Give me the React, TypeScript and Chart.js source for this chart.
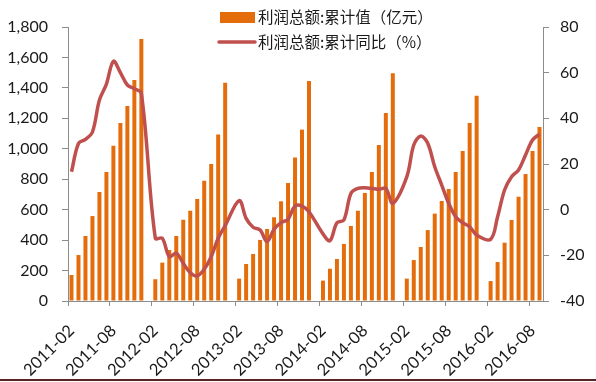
import React, { useEffect, useRef } from 'react';
import { Chart, registerables } from 'chart.js';

Chart.register(...registerables);

// ---- data ----
const FIRST_YEAR = 2011;
const LAST_YEAR = 2016;
const LAST_MONTH = 9;

// cumulative profit (亿元), Feb..Dec of each year (January not published)
const profit2011 = [171, 302, 427, 558, 716, 847, 1020, 1169, 1281, 1452, 1721];
const profit2012 = [143, 252, 335, 427, 534, 593, 670, 790, 900, 1093, 1434];
const profit2013 = [147, 243, 309, 401, 473, 550, 655, 775, 942, 1126, 1445];
const profit2014 = [134, 212, 276, 375, 493, 593, 710, 848, 1025, 1235, 1496];
const profit2015 = [147, 269, 355, 466, 574, 657, 736, 848, 986, 1169, 1349];
const profit2016 = [131, 256, 383, 532, 685, 834, 986, 1143];

// cumulative YoY (%), Feb..Dec of each year
const yoy2011 = [16.6, 29, 30.8, 34, 48, 55, 65, 60, 54.6, 53, 51];
const yoy2012 = [-12.5, -12.5, -20.6, -19.1, -23.5, -27.6, -29, -26.1, -20.6, -12.5, -7];
const yoy2013 = [4, -3.8, -7.7, -8.9, -14, -8.6, -5.7, -4.2, 1.6, 1.6, -0.9];
const yoy2014 = [-10.6, -13.6, -5.7, -4.5, 7.1, 9.3, 9.6, 9.3, 8.9, 9.3, 2.8];
const yoy2015 = [14.4, 28.3, 32.3, 29.1, 18.8, 10.8, 2.8, -3.1, -5.7, -7.5, -11.1];
const yoy2016 = [-13, -3.1, 8.6, 14.4, 17.4, 23.9, 30.5, 33.1];

const leftTicks = { min: 0, max: 1800, step: 200 };
const rightTicks = { min: -40, max: 80, step: 20 };

const BAR_LABEL = '利润总额:累计值（亿元）';
const LINE_LABEL = '利润总额:累计同比（%）';

// categories: every month from 2011-02 to 2016-09
const categories: string[] = [];
for (let y = FIRST_YEAR; y <= LAST_YEAR; y++) {
  for (let m = 1; m <= 12; m++) {
    if (y === FIRST_YEAR && m === 1) continue;
    if (y === LAST_YEAR && m > LAST_MONTH) continue;
    categories.push(`${y}-${String(m).padStart(2, '0')}`);
  }
}

function joinYears(parts: number[][]): (number | null)[] {
  const out: (number | null)[] = [];
  parts.forEach((p, i) => {
    if (i > 0) out.push(null); // January: no data
    out.push(...p);
  });
  return out;
}

const profitSeries = joinYears([profit2011, profit2012, profit2013, profit2014, profit2015, profit2016]);
const yoySeries = joinYears([yoy2011, yoy2012, yoy2013, yoy2014, yoy2015, yoy2016]);

const BAR_COLOR = '#E46C0A';
const LINE_COLOR = '#C0504D';
const AXIS_COLOR = '#8c8c8c';
const TEXT_COLOR = '#1a1a1a';
const TICK_FONT = { family: 'Lato', size: 16 };

const legendPlugin = {
  id: 'cornerLegend',
  afterDatasetsDraw(chart: any) {
    const ctx = chart.ctx as CanvasRenderingContext2D;
    ctx.save();
    ctx.font = '15.5px "Noto Sans CJK SC"';
    ctx.textBaseline = 'middle';
    ctx.textAlign = 'left';
    // bar item
    ctx.fillStyle = BAR_COLOR;
    ctx.fillRect(220, 12, 35, 11);
    ctx.fillStyle = TEXT_COLOR;
    ctx.fillText(BAR_LABEL, 258, 17.5);
    // line item
    ctx.strokeStyle = LINE_COLOR;
    ctx.lineWidth = 3.5;
    ctx.lineCap = 'round';
    ctx.beginPath();
    ctx.moveTo(219, 42);
    ctx.lineTo(255, 42);
    ctx.stroke();
    ctx.fillStyle = TEXT_COLOR;
    ctx.fillText(LINE_LABEL, 258, 42);
    ctx.restore();
  },
};

export default function App() {
  const ref = useRef<HTMLCanvasElement | null>(null);

  useEffect(() => {
    if (!ref.current) return;
    const chart = new Chart(ref.current, {
      type: 'bar',
      data: {
        labels: categories,
        datasets: [
          {
            type: 'line',
            label: LINE_LABEL,
            data: yoySeries,
            yAxisID: 'y1',
            borderColor: LINE_COLOR,
            backgroundColor: LINE_COLOR,
            borderWidth: 3.5,
            pointRadius: 0,
            tension: 0.35,
            spanGaps: true,
            order: 0,
          } as any,
          {
            type: 'bar',
            label: BAR_LABEL,
            data: profitSeries,
            yAxisID: 'y',
            backgroundColor: BAR_COLOR,
            categoryPercentage: 1,
            barPercentage: 0.57,
            order: 1,
          } as any,
        ],
      },
      options: {
        responsive: false,
        animation: false,
        layout: { padding: { top: 27, left: 0, right: 0, bottom: 0 } },
        plugins: {
          legend: { display: false },
          tooltip: { enabled: false },
        },
        scales: {
          x: {
            type: 'category',
            offset: true,
            grid: {
              offset: true,
              drawOnChartArea: false,
              drawTicks: true,
              tickLength: 5,
              color: (c: any) => (typeof c.index === 'number' && c.index % 6 === 0 ? AXIS_COLOR : 'rgba(0,0,0,0)'),
            },
            border: { color: AXIS_COLOR, width: 1 },
            ticks: {
              autoSkip: false,
              minRotation: 45,
              maxRotation: 45,
              padding: 15,
              color: TEXT_COLOR,
              font: { family: 'Lato', size: 16.5 },
              callback: (_v: any, i: number) => (i % 6 === 0 ? categories[i] : ''),
            },
            afterFit: (s: any) => {
              s.height = 81;
            },
          },
          y: {
            type: 'linear',
            position: 'left',
            min: leftTicks.min,
            max: leftTicks.max,
            grid: { drawOnChartArea: false, drawTicks: true, tickLength: 6, color: AXIS_COLOR },
            border: { color: AXIS_COLOR, width: 1 },
            ticks: {
              stepSize: leftTicks.step,
              padding: 14,
              color: TEXT_COLOR,
              font: TICK_FONT,
              callback: (v: any) => Number(v).toLocaleString('en-US'),
            },
            afterFit: (s: any) => {
              s.width = 68;
            },
          },
          y1: {
            type: 'linear',
            position: 'right',
            min: rightTicks.min,
            max: rightTicks.max,
            grid: { drawOnChartArea: false, drawTicks: true, tickLength: 6, color: AXIS_COLOR },
            border: { color: AXIS_COLOR, width: 1 },
            ticks: {
              stepSize: rightTicks.step,
              padding: 11,
              color: TEXT_COLOR,
              font: TICK_FONT,
            },
            afterFit: (s: any) => {
              s.width = 53;
            },
          },
        },
      },
      plugins: [legendPlugin],
    });
    return () => chart.destroy();
  }, []);

  return (
    <div style={{ position: 'absolute', left: 0, top: 0, width: 596, height: 382, background: '#fff', overflow: 'hidden' }}>
      <canvas ref={ref} width={596} height={382} style={{ display: 'block' }} />
      <div style={{ position: 'absolute', left: 0, top: 379, width: 596, height: 2, background: '#5a2222' }} />
    </div>
  );
}
